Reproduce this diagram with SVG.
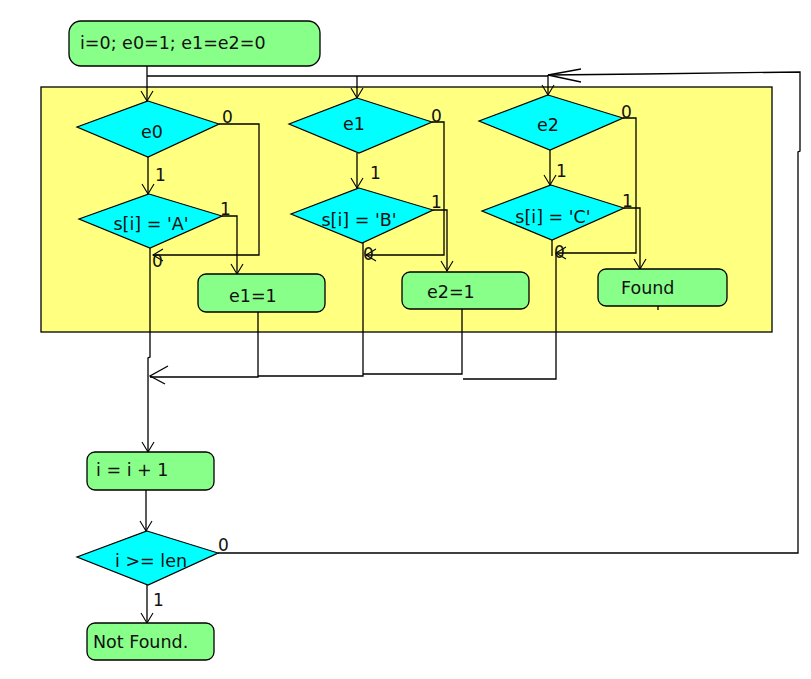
<svg xmlns="http://www.w3.org/2000/svg" width="811" height="679" viewBox="0 0 811 679">
<style>
.box{fill:#88ff88;stroke:#000;stroke-width:1.3}
.dia{fill:#00ffff;stroke:#000;stroke-width:1.2}
.t{font-family:"DejaVu Sans",sans-serif;font-size:17.5px;fill:#111}
.l{font-family:"DejaVu Sans",sans-serif;font-size:17px;fill:#111}
.c{fill:none;stroke:#000;stroke-width:1.3}
</style>
<defs>
<marker id="a" markerUnits="userSpaceOnUse" markerWidth="24" markerHeight="24" refX="12" refY="12" orient="auto" viewBox="0 0 24 24">
<path d="M2,6 L12,12 L2,18" fill="none" stroke="#000" stroke-width="1.1"/>
</marker>
</defs>
<rect width="811" height="679" fill="#fff"/>
<rect id="frame" x="41" y="87" width="731" height="245" fill="#ffff80" stroke="#000" stroke-width="1.3"/>

<g id="connectors">
<path class="c" d="M147,66 V101" marker-end="url(#a)"/>
<path class="c" d="M147,76 H548"/>
<path class="c" d="M357,76 V98" marker-end="url(#a)"/>
<path class="c" d="M548,75 V95" marker-end="url(#a)"/>
<path class="c" d="M218,553 H798 V152 L800,151 V72 L643,74 L548,75"/>
<path class="c" d="M581,69 L548,75 L581,82"/>
<path class="c" d="M219,124 H259 V255 H153" marker-end="url(#a)"/>
<path class="c" d="M148,157 V194" marker-end="url(#a)"/>
<path class="c" d="M222,216 H237 V274" marker-end="url(#a)"/>
<path class="c" d="M150,248 V357 L148,358 V452" marker-end="url(#a)"/>
<path class="c" d="M258,312 V377 H150"/>
<path class="c" d="M168,366 L150,376 L165,384"/>
<path class="c" d="M432,122 H444 V255 H366" marker-end="url(#a)"/>
<path class="c" d="M357,153 V188" marker-end="url(#a)"/>
<path class="c" d="M433,210 H447 V271" marker-end="url(#a)"/>
<path class="c" d="M462,309 V374 H363"/>
<path class="c" d="M363,243 V376 H258"/>
<path class="c" d="M623,118 H636 V253 H556" marker-end="url(#a)"/>
<path class="c" d="M550,150 V185" marker-end="url(#a)"/>
<path class="c" d="M624,208 H640 V269" marker-end="url(#a)"/>
<path class="c" d="M552,240 V256"/>
<path class="c" d="M556,253 V379 H463"/>
<path class="c" d="M146,490 V531" marker-end="url(#a)"/>
<path class="c" d="M147,585 V623" marker-end="url(#a)"/>
<path class="c" d="M658,306 V310"/>
</g>

<g id="start"><rect class="box" x="69" y="21" width="251" height="45" rx="12"/><text class="t" x="80" y="49">i=0; e0=1; e1=e2=0</text></g>

<g id="e0"><polygon class="dia" points="148,101 219,124 148,157 77,127"/><text class="t" x="152" y="138" text-anchor="middle">e0</text>
<text class="l" x="222" y="123">0</text><text class="l" x="155" y="181">1</text></g>
<g id="sA"><polygon class="dia" points="149,194 222,216 150,248 79,219"/><text class="t" x="151" y="230" text-anchor="middle">s[i] = 'A'</text>
<text class="l" x="220" y="215">1</text><text class="l" x="152" y="267">0</text></g>
<g id="e1set"><rect class="box" x="198" y="274" width="127" height="38" rx="8"/><text class="t" x="229" y="302">e1=1</text></g>

<g id="e1"><polygon class="dia" points="357,98 432,122 359,153 289,124"/><text class="t" x="354" y="130" text-anchor="middle">e1</text>
<text class="l" x="431" y="122">0</text><text class="l" x="370" y="179">1</text></g>
<g id="sB"><polygon class="dia" points="359,188 433,210 362,243 291,214"/><text class="t" x="359" y="226" text-anchor="middle">s[i] = 'B'</text>
<text class="l" x="431" y="208">1</text><text class="l" x="363" y="260">0</text></g>
<g id="e2set"><rect class="box" x="402" y="272" width="127" height="37" rx="8"/><text class="t" x="427" y="298">e2=1</text></g>

<g id="e2"><polygon class="dia" points="548,95 623,118 550,150 479,121"/><text class="t" x="548" y="131" text-anchor="middle">e2</text>
<text class="l" x="621" y="118">0</text><text class="l" x="556" y="177">1</text></g>
<g id="sC"><polygon class="dia" points="551,185 624,208 552,240 482,211"/><text class="t" x="553" y="223" text-anchor="middle">s[i] = 'C'</text>
<text class="l" x="622" y="207">1</text><text class="l" x="554" y="258">0</text></g>
<g id="found"><rect class="box" x="598" y="269" width="129" height="37" rx="8"/><text class="t" x="621" y="294">Found</text></g>

<g id="inc"><rect class="box" x="87" y="452" width="127" height="38" rx="8"/><text class="t" x="96" y="476">i = i + 1</text></g>
<g id="cmp"><polygon class="dia" points="147,531 218,553 148,585 77,557"/><text class="t" x="151" y="567" text-anchor="middle">i &gt;= len</text>
<text class="l" x="218" y="551">0</text><text class="l" x="153" y="606">1</text></g>
<g id="notfound"><rect class="box" x="87" y="623" width="127" height="37" rx="8"/><text class="t" x="93" y="648">Not Found.</text></g>
</svg>
